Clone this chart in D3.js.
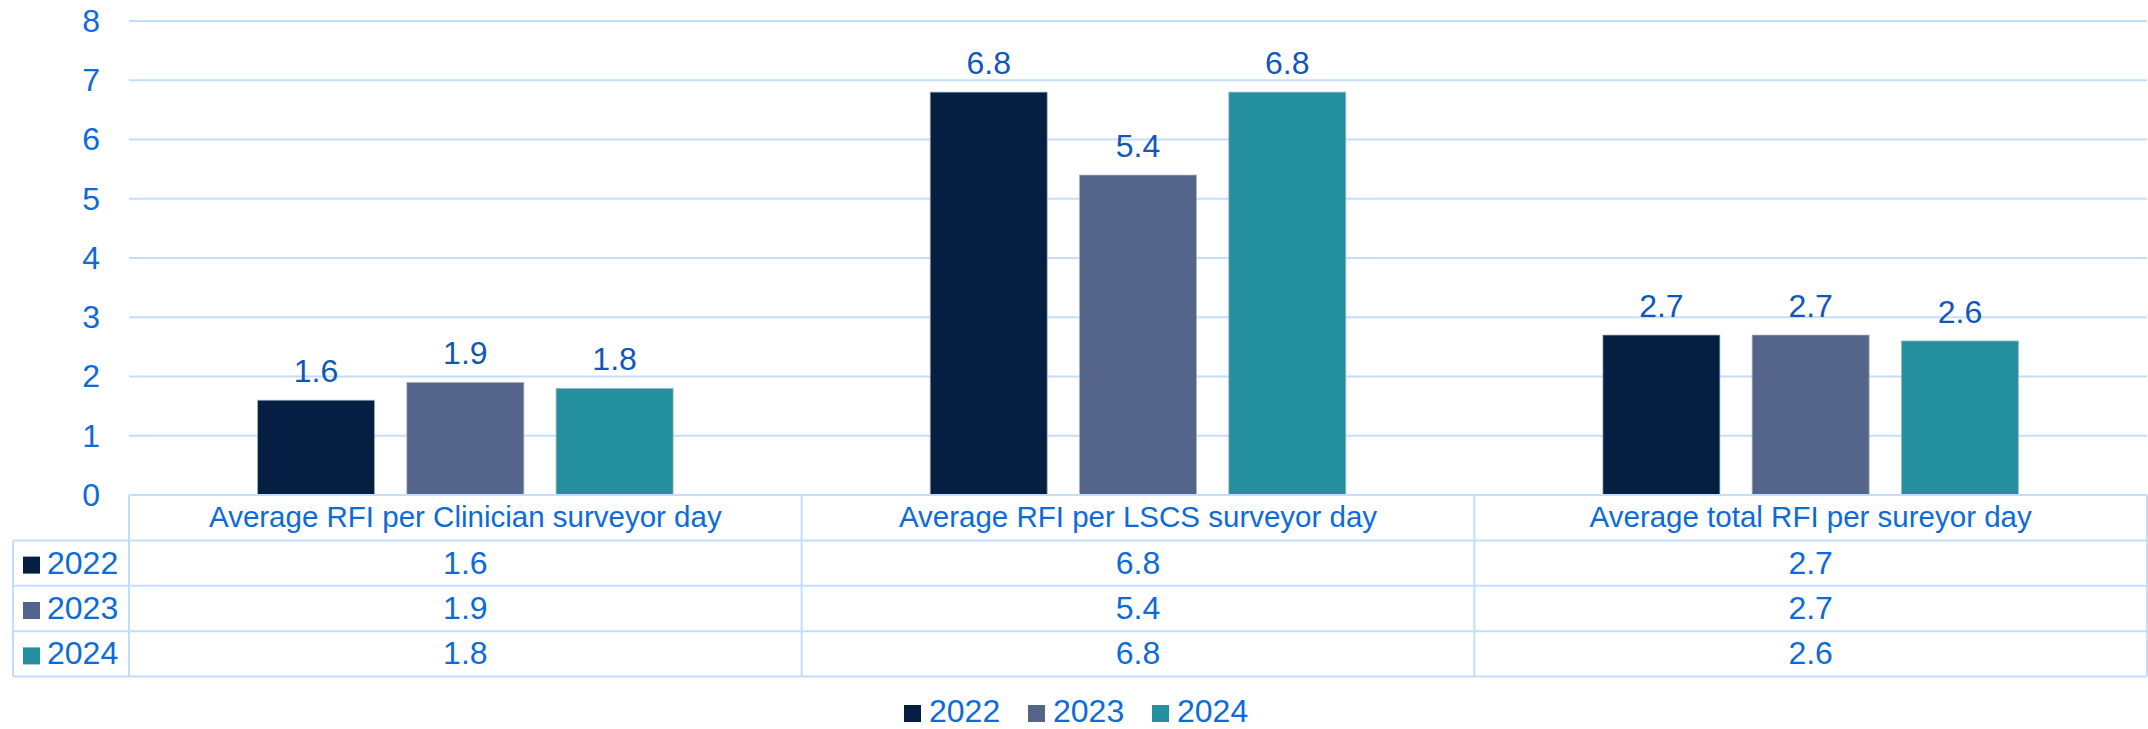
<!DOCTYPE html>
<html>
<head>
<meta charset="utf-8">
<script src="https://cdn.jsdelivr.net/npm/d3@7"></script>
<style>
  html, body { margin: 0; padding: 0; background: #ffffff; }
  svg { display: block; font-family: "Liberation Sans", Arial, sans-serif; }
</style>
</head>
<body>
<svg id="chart" width="2148" height="729"></svg>
<script>
// Categories along the x axis
const categories = [
  "Average RFI per Clinician surveyor day",
  "Average RFI per LSCS surveyor day",
  "Average total RFI per sureyor day"
];
// Series (one per year)
const years = ["2022", "2023", "2024"];
const values2022 = [1.6, 6.8, 2.7];
const values2023 = [1.9, 5.4, 2.7];
const values2024 = [1.8, 6.8, 2.6];
const yTicks = [0, 1, 2, 3, 4, 5, 6, 7, 8];

const seriesValues = { "2022": values2022, "2023": values2023, "2024": values2024 };
const colors = { "2022": "#041f42", "2023": "#54648b", "2024": "#248f9f" };

const textBlue = "#0d6bd9";
const labelBlue = "#0f58ba";
const lineBlue = "#c3defb";
const numSize = "32px";

const svg = d3.select("#chart");

const plotLeft = 129, plotRight = 2147, plotTop = 21, plotBase = 495;
const rowH = 45.4;
const tableLeft = 13;

const x0 = d3.scaleBand().domain(categories).range([plotLeft, plotRight]).padding(0);
const x1 = d3.scaleBand().domain(years).range([0, x0.bandwidth()])
  .paddingInner(0.216).paddingOuter(0.861);
const y = d3.scaleLinear().domain([0, 8]).range([plotBase, plotTop]);

// Horizontal gridlines
svg.append("g")
  .selectAll("line")
  .data(yTicks.filter(d => d > 0))
  .join("line")
  .attr("x1", plotLeft).attr("x2", plotRight)
  .attr("y1", d => y(d)).attr("y2", d => y(d))
  .attr("stroke", lineBlue).attr("stroke-width", 2);

// Y axis tick labels
const yAxis = d3.axisLeft(y).tickValues(yTicks).tickSize(0).tickPadding(29).tickFormat(d3.format("d"));
const yg = svg.append("g").attr("transform", `translate(${plotLeft},0)`).call(yAxis);
yg.select(".domain").remove();
yg.selectAll("text")
  .attr("fill", textBlue)
  .style("font-size", numSize)
  .style("font-family", "'Liberation Sans', Arial, sans-serif");

// Bars
const groups = svg.append("g")
  .selectAll("g")
  .data(categories)
  .join("g")
  .attr("transform", d => `translate(${x0(d)},0)`);

groups.selectAll("rect")
  .data((c, i) => years.map(yr => ({ yr, v: seriesValues[yr][i] })))
  .join("rect")
  .attr("x", d => x1(d.yr))
  .attr("width", x1.bandwidth())
  .attr("y", d => y(d.v))
  .attr("height", d => y(0) - y(d.v))
  .attr("fill", d => colors[d.yr])
  .attr("stroke", "#a9b6c8")
  .attr("stroke-width", 1)
  .attr("stroke-opacity", 0.7);

// Value labels above bars
groups.selectAll("text")
  .data((c, i) => years.map(yr => ({ yr, v: seriesValues[yr][i] })))
  .join("text")
  .attr("x", d => x1(d.yr) + x1.bandwidth() / 2)
  .attr("y", d => y(d.v) - 18)
  .attr("text-anchor", "middle")
  .attr("fill", labelBlue)
  .style("font-size", numSize)
  .text(d => d3.format(".1f")(d.v));

// Data table
const table = svg.append("g");
const tableBottom = plotBase + rowH * 4;

// horizontal rules
table.append("line")
  .attr("x1", plotLeft).attr("x2", plotRight)
  .attr("y1", plotBase).attr("y2", plotBase)
  .attr("stroke", lineBlue).attr("stroke-width", 2);
[1, 2, 3, 4].forEach(r => {
  table.append("line")
    .attr("x1", tableLeft).attr("x2", plotRight)
    .attr("y1", plotBase + rowH * r).attr("y2", plotBase + rowH * r)
    .attr("stroke", lineBlue).attr("stroke-width", 2);
});
// vertical rules
const colEdges = categories.map(c => x0(c)).concat([plotRight]);
colEdges.forEach(xv => {
  table.append("line")
    .attr("x1", xv).attr("x2", xv)
    .attr("y1", plotBase).attr("y2", tableBottom)
    .attr("stroke", lineBlue).attr("stroke-width", 2);
});
table.append("line")
  .attr("x1", tableLeft).attr("x2", tableLeft)
  .attr("y1", plotBase + rowH).attr("y2", tableBottom)
  .attr("stroke", lineBlue).attr("stroke-width", 2);

// header row
table.selectAll("text.hdr")
  .data(categories)
  .join("text")
  .attr("class", "hdr")
  .attr("x", d => x0(d) + x0.bandwidth() / 2)
  .attr("y", plotBase + rowH / 2 + 9.5)
  .attr("text-anchor", "middle")
  .attr("fill", textBlue)
  .style("font-size", "29.5px")
  .text(d => d);

// series rows
years.forEach((yr, r) => {
  const rowTop = plotBase + rowH * (r + 1);
  const baseline = rowTop + rowH / 2 + 10.5;
  table.append("rect")
    .attr("x", 23).attr("y", baseline - 17)
    .attr("width", 17).attr("height", 17)
    .attr("fill", colors[yr]);
  table.append("text")
    .attr("x", 47).attr("y", baseline)
    .attr("fill", textBlue)
    .style("font-size", numSize)
    .text(yr);
  table.selectAll(null)
    .data(seriesValues[yr].map((v, i) => ({ v, c: categories[i] })))
    .join("text")
    .attr("x", d => x0(d.c) + x0.bandwidth() / 2)
    .attr("y", baseline)
    .attr("text-anchor", "middle")
    .attr("fill", textBlue)
    .style("font-size", numSize)
    .text(d => d3.format(".1f")(d.v));
});

// Legend
const legendX = [904, 1028, 1152];
const legendBaseline = 722;
const legend = svg.append("g");
years.forEach((yr, i) => {
  legend.append("rect")
    .attr("x", legendX[i]).attr("y", legendBaseline - 17)
    .attr("width", 17).attr("height", 17)
    .attr("fill", colors[yr]);
  legend.append("text")
    .attr("x", legendX[i] + 25).attr("y", legendBaseline)
    .attr("fill", textBlue)
    .style("font-size", numSize)
    .text(yr);
});
</script>
</body>
</html>
